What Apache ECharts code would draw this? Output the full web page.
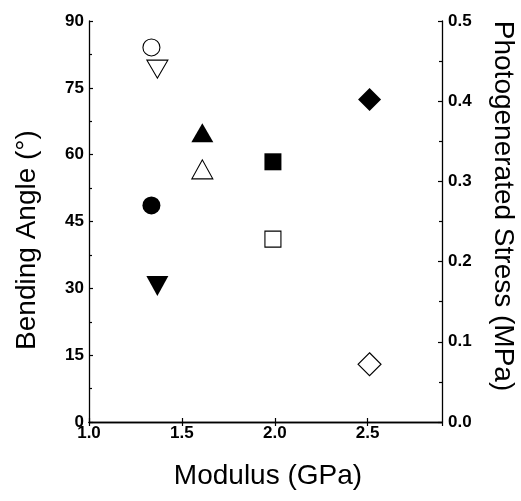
<!DOCTYPE html>
<html>
<head>
<meta charset="utf-8">
<script src="https://cdn.jsdelivr.net/npm/echarts@6/dist/echarts.min.js"></script>
<style>html,body{margin:0;padding:0;background:#fff}#c{width:521px;height:501px}</style>
</head>
<body>
<div id="c"></div>
<script>
// Modulus (GPa) for each sample
const modulus = [1.336, 1.368, 1.61, 1.99, 2.51];
// Bending angle (deg), filled symbols, left axis
const bendingAngle = [48.6, 30.5, 64.9, 58.4, 72.4];
// Photogenerated stress (MPa), open symbols, right axis
const stress = [0.467, 0.440, 0.315, 0.228, 0.072];
const symbols = ['circle', 'triangle', 'triangle', 'rect', 'diamond'];
const rotations = [0, 180, 0, 0, 0];
const filledSizes = [[18, 18], [22, 20], [22, 19], [17, 17], [23, 23]];
const openSizes = [[17, 17], [21, 18], [21, 19], [16, 16], [23, 23]];
const xTicks = { min: 1.0, max: 2.9, interval: 0.5 };
const yLeftTicks = { min: 0, max: 90, interval: 15 };
const yRightTicks = { min: 0, max: 0.5, interval: 0.1 };

const FONT = "'Liberation Sans', Arial, Helvetica, sans-serif";
const chart = echarts.init(document.getElementById('c'), null, { renderer: 'canvas' });

const axisLine = { show: true, lineStyle: { color: '#000', width: 1.3 } };
const tickStyle = { color: '#000', width: 1.2 };
const labelStyle = { color: '#000', fontFamily: FONT, fontWeight: 'bold', fontSize: 17 };

const series = [];
for (let i = 0; i < modulus.length; i++) {
  series.push({
    type: 'scatter', yAxisIndex: 0, xAxisIndex: 0,
    symbol: symbols[i], symbolRotate: rotations[i], symbolSize: filledSizes[i],
    itemStyle: { color: '#000', opacity: 1 },
    data: [[modulus[i], bendingAngle[i]]], z: 3
  });
  series.push({
    type: 'scatter', yAxisIndex: 1, xAxisIndex: 0,
    symbol: symbols[i], symbolRotate: rotations[i], symbolSize: openSizes[i],
    itemStyle: { color: '#fff', borderColor: '#000', borderWidth: 1.1, opacity: 1 },
    data: [[modulus[i], stress[i]]], z: 3
  });
}

chart.setOption({
  animation: false,
  backgroundColor: '#fff',
  grid: { left: 89, right: 79, top: 21, bottom: 79, containLabel: false },
  xAxis: [{
    type: 'value', position: 'bottom',
    min: xTicks.min, max: xTicks.max, interval: xTicks.interval,
    axisLine: axisLine,
    axisTick: { show: true, inside: true, length: 4, lineStyle: tickStyle },
    axisLabel: Object.assign({ margin: 3, showMaxLabel: false, formatter: v => v.toFixed(1) }, labelStyle),
    splitLine: { show: false }
  }, {
    type: 'value', position: 'top',
    min: xTicks.min, max: xTicks.max, interval: xTicks.interval,
    axisLine: axisLine,
    axisTick: { show: true, inside: true, length: 4, lineStyle: tickStyle },
    axisLabel: { show: false },
    splitLine: { show: false }
  }],
  yAxis: [{
    type: 'value', position: 'left',
    min: yLeftTicks.min, max: yLeftTicks.max, interval: yLeftTicks.interval,
    axisLine: axisLine,
    axisTick: { show: true, inside: true, length: 4, lineStyle: tickStyle },
    minorTick: { show: true, splitNumber: 2, length: 3, lineStyle: tickStyle },
    axisLabel: Object.assign({ margin: 5 }, labelStyle),
    splitLine: { show: false }, minorSplitLine: { show: false }
  }, {
    type: 'value', position: 'right',
    min: yRightTicks.min, max: yRightTicks.max, interval: yRightTicks.interval,
    axisLine: axisLine,
    axisTick: { show: true, inside: true, length: 4, lineStyle: tickStyle },
    minorTick: { show: true, splitNumber: 2, length: 3, lineStyle: tickStyle },
    axisLabel: Object.assign({ margin: 6, formatter: v => v.toFixed(1) }, labelStyle),
    splitLine: { show: false }, minorSplitLine: { show: false }
  }],
  graphic: [
    { type: 'text', x: 27, y: 240, rotation: Math.PI / 2,
      style: { text: 'Bending Angle (°)', fill: '#000', font: '28px ' + FONT, align: 'center', verticalAlign: 'middle' } },
    { type: 'text', x: 503, y: 206, rotation: -Math.PI / 2,
      style: { text: 'Photogenerated Stress (MPa)', fill: '#000', font: '28px ' + FONT, align: 'center', verticalAlign: 'middle' } },
    { type: 'text', x: 268, y: 476,
      style: { text: 'Modulus (GPa)', fill: '#000', font: '28px ' + FONT, align: 'center', verticalAlign: 'middle' } }
  ],
  series: series
});
</script>
</body>
</html>
